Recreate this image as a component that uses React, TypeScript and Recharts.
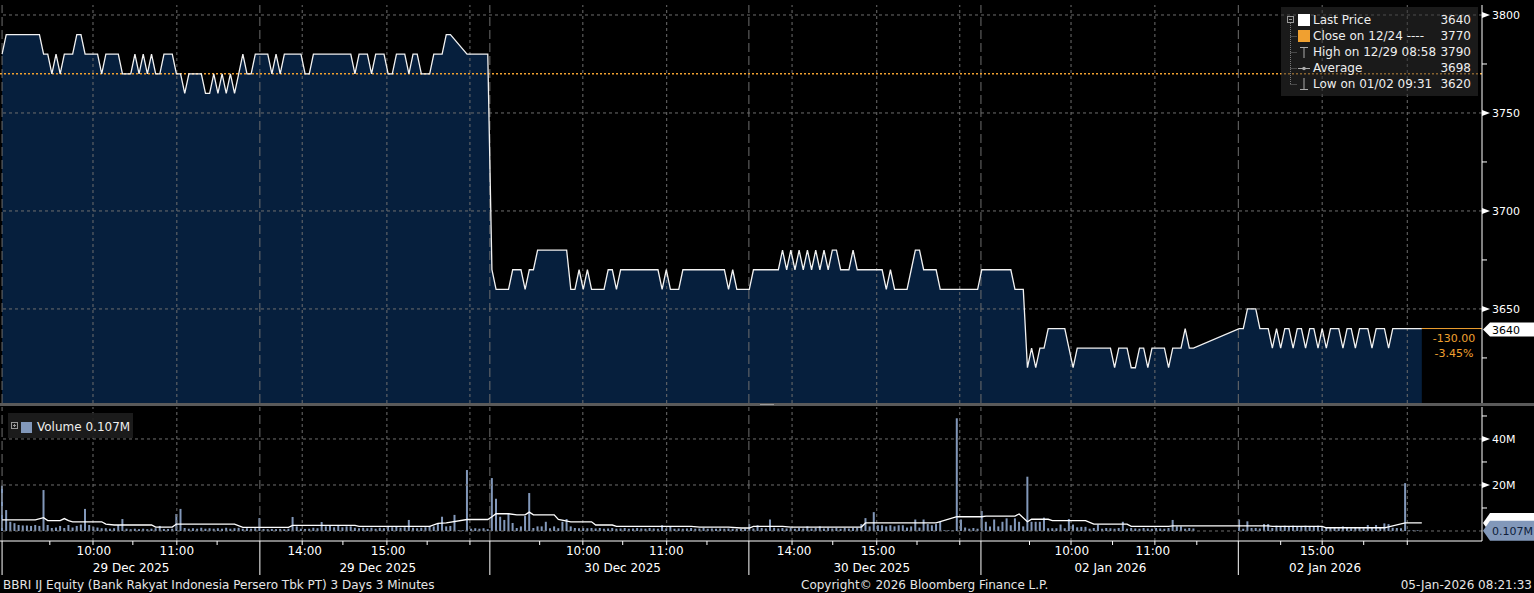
import React from "react";
import { ComposedChart, Area, Line, Bar, XAxis, YAxis, ReferenceLine } from "recharts";

// one value per 3-minute slot, 118 slots per trading day
const day1Price = [
  3780, 3790, 3790, 3790, 3790, 3790, 3790, 3790, 3790, 3790,
  3780, 3780, 3770, 3780, 3770, 3780, 3780, 3780, 3790, 3790,
  3780, 3780, 3780, 3780, 3770, 3780, 3780, 3780, 3780, 3770,
  3770, 3770, 3780, 3770, 3780, 3770, 3780, 3770, 3770, 3780,
  3780, 3780, 3770, 3770, 3760, 3770, 3770, 3770, 3770, 3760,
  3760, 3770, 3760, 3770, 3760, 3770, 3760, 3770, 3780, 3770,
  3770, 3780, 3780, 3780, 3780, 3770, 3780, 3770, 3780, 3780,
  3780, 3780, 3780, 3770, 3770, 3780, 3780, 3780, 3780, 3780,
  3780, 3780, 3780, 3780, 3780, 3770, 3780, 3780, 3780, 3770,
  3780, 3780, 3780, 3770, 3770, 3780, 3780, 3780, 3770, 3780,
  3780, 3770, 3770, 3770, 3780, 3780, 3780, 3790, 3790, null,
  null, null, 3780, 3780, 3780, 3780, 3780, 3780,
];
const day2Price = [
  3670, 3660, 3660, 3660, 3660, 3670, 3670, 3670, 3660, 3670,
  3670, 3680, 3680, 3680, 3680, 3680, 3680, 3680, 3680, 3660,
  3660, 3670, 3660, 3670, 3660, 3660, 3660, 3660, 3670, 3670,
  3660, 3670, 3670, 3670, 3670, 3670, 3670, 3670, 3670, 3670,
  3670, 3660, 3670, 3660, 3660, 3660, 3670, 3670, 3670, 3670,
  3670, 3670, 3670, 3670, 3670, 3670, 3670, 3660, 3670, 3660,
  3660, 3660, 3660, 3670, 3670, 3670, 3670, 3670, 3670, 3670,
  3680, 3670, 3680, 3670, 3680, 3670, 3680, 3670, 3680, 3670,
  3680, 3670, 3680, 3680, 3670, 3670, 3670, 3680, 3670, 3670,
  3670, 3670, 3670, 3670, 3670, 3660, 3670, 3660, 3660, 3660,
  3660, 3670, 3680, 3680, 3670, 3670, 3670, 3670, 3660, 3660,
  3660, 3660, 3660, 3660, 3660, 3660, 3660, 3660,
];
const day3Price = [
  3670, 3670, 3670, 3670, 3670, 3670, 3670, 3670, 3660, 3660,
  3660, 3620, 3630, 3620, 3630, 3630, 3640, 3640, 3640, 3640,
  3640, 3630, 3620, 3630, 3630, 3630, 3630, 3630, 3630, 3630,
  3630, 3630, 3620, 3630, 3630, 3630, 3620, 3620, 3630, 3630,
  3620, 3630, 3630, 3630, 3630, 3620, 3630, 3630, 3630, 3640,
  3630, 3630, null, null, null, null, null, null, null, null,
  null, null, 3640, 3640, 3650, 3650, 3650, 3640, 3640, 3640,
  3630, 3640, 3630, 3640, 3640, 3630, 3640, 3640, 3630, 3640,
  3640, 3630, 3640, 3630, 3640, 3640, 3640, 3630, 3640, 3640,
  3630, 3640, 3640, 3640, 3630, 3640, 3640, 3640, 3630, 3640,
  3640, 3640, 3640, 3640, 3640, 3640, 3640,
];

// volume in millions of shares
const day1Volume = [
  19.7, 9.1, 4.0, 3.4, 2.6, 2.4, 2.4, 2.2, 2.6, 2.2,
  17.8, 2.6, 1.3, 1.5, 2.2, 1.3, 2.6, 1.5, 2.2, 2.8,
  9.6, 2.6, 1.8, 1.5, 1.2, 1.2, 1.0, 1.2, 2.6, 5.2,
  1.0, 0.8, 1.0, 0.8, 1.0, 0.8, 1.0, 1.2, 2.2, 0.9,
  0.9, 1.0, 7.4, 9.6, 1.3, 1.0, 1.2, 1.0, 1.4, 1.0,
  1.2, 1.0, 1.2, 1.0, 1.4, 1.0, 1.2, 1.4, 1.0, 1.2,
  1.0, 1.2, 5.6, 0.9, 0.8, 0.9, 0.8, 0.9, 0.8, 1.0,
  6.1, 2.0, 1.0, 0.9, 1.0, 1.4, 1.2, 3.9, 2.0, 2.4,
  1.6, 2.2, 1.6, 2.0, 2.0, 1.4, 1.2, 1.4, 1.2, 1.4,
  1.0, 1.4, 1.2, 2.2, 1.6, 1.8, 1.4, 1.6, 4.8, 1.4,
  1.2, 1.4, 1.6, 2.2, 2.0, 3.2, 6.2, 2.0, 2.2, 7.0,
  0.3, 0.3, 26.5, 1.0, 1.2, 1.0, 1.2, 0.8,
];
const day2Volume = [
  23, 14, 6.2, 4.8, 7.8, 3.5, 1.3, 2.0, 6.5, 16.5,
  1.3, 2.0, 2.0, 4.0, 1.2, 2.0, 1.2, 4.0, 5.2, 2.0,
  1.3, 1.2, 1.3, 1.2, 1.3, 1.1, 1.3, 1.0, 1.1, 1.3,
  1.0, 1.1, 1.3, 1.0, 1.1, 1.3, 1.1, 1.0, 1.3, 1.1,
  1.0, 2.5, 1.1, 2.0, 1.0, 1.1, 1.0, 1.1, 1.3, 1.0,
  1.1, 1.3, 1.0, 1.1, 1.0, 1.1, 1.0, 1.1, 1.0, 0.9,
  0.9, 1.0, 3.0, 1.1, 2.5, 1.3, 1.1, 5.0, 1.4, 1.1,
  1.3, 1.1, 1.3, 1.0, 1.3, 1.1, 2.0, 1.1, 1.3, 2.0,
  1.1, 1.4, 1.1, 1.3, 1.0, 1.3, 1.1, 1.3, 1.4, 3.0,
  5.6, 2.0, 8.2, 2.5, 2.5, 2.0, 2.5, 2.0, 2.5, 2.5,
  1.5, 2.0, 5.0, 1.5, 5.0, 3.0, 2.5, 3.0, 4.0, 0.3,
  0.3, 0.3, 49, 5.0, 1.5, 1.0, 1.3, 1.0,
];
const day3Volume = [
  8.7, 4.0, 2.0, 5.0, 2.0, 4.0, 5.5, 2.5, 5.5, 4.0,
  2.0, 23.6, 4.0, 4.0, 4.0, 5.8, 1.2, 1.2, 1.2, 2.8,
  1.2, 5.2, 2.8, 1.6, 1.8, 1.8, 1.0, 1.3, 2.8, 1.0,
  1.3, 1.2, 1.0, 1.3, 4.0, 1.0, 1.3, 1.1, 1.0, 1.3,
  1.1, 1.0, 1.3, 1.1, 1.0, 1.3, 4.8, 2.0, 2.0, 1.0,
  1.3, 1.1, null, null, null, null, null, null, null, null,
  null, null, 5.0, 1.0, 4.2, 1.3, 1.3, 1.1, 3.0, 3.0,
  1.3, 2.3, 2.0, 2.3, 1.9, 2.3, 2.0, 1.9, 2.3, 2.0,
  1.9, 2.3, 2.0, 1.4, 1.3, 1.4, 1.2, 2.0, 1.4, 1.2,
  1.3, 1.4, 1.2, 2.6, 1.4, 2.6, 1.3, 3.3, 3.0, 1.4,
  1.3, 1.2, 20.8, 0.3, 0.3, 0.3, 0.1,
];

// [slot, M] points
const volumeAvg: [number, number][] = [
  [0, 4.8], [8, 4.8], [10, 5.8], [11, 4.5], [14, 4.5], [15, 5.4], [16, 4.5], [17, 4.0],
  [24, 4.0], [25, 3.0], [27, 2.6], [36, 2.6], [37, 1.7], [41, 1.7], [42, 3.0], [56, 3.0],
  [58, 1.6], [69, 1.6], [70, 2.4], [85, 2.4], [86, 2.0], [103, 2.0], [105, 3.3], [107, 3.5],
  [112, 5.0], [117, 5.0], [118, 6.2], [119, 7.5], [122, 7.5], [124, 7.0], [126, 7.0], [127, 8.2],
  [128, 7.0], [133, 7.0], [134, 5.0], [137, 4.0], [142, 4.0], [143, 2.6], [147, 2.6], [148, 2.0],
  [166, 2.0], [168, 1.7], [175, 1.7], [178, 1.3], [180, 1.3], [181, 2.0], [188, 2.0], [190, 1.7],
  [207, 1.7], [208, 3.5], [225, 3.5], [230, 6.2], [236, 6.2], [237, 6.5], [244, 6.5], [245, 7.4],
  [247, 4.0], [248, 5.1], [252, 5.1], [253, 4.5], [261, 4.5], [263, 3.0], [271, 3.0], [272, 2.0],
  [281, 2.0], [282, 2.2], [305, 2.2], [306, 2.0], [318, 2.0], [319, 1.4], [333, 1.4], [338, 3.5],
  [342, 3.5],
];

const totalSlots = 357;
const closePrice = 3770;
const lastPrice = 3640;
const lastVolume = 0.107;
const priceTicks = [3650, 3700, 3750, 3800];
const priceMinorTicks = [3625, 3675, 3725, 3775];
const volumeTicks = [20, 40];
const volumeMinorTicks = [10, 30, 50];

const timeLabels = [
  { slot: 22.1, text: "10:00" }, { slot: 42.1, text: "11:00" },
  { slot: 72.9, text: "14:00" }, { slot: 93, text: "15:00" },
  { slot: 140, text: "10:00" }, { slot: 160, text: "11:00" },
  { slot: 190.8, text: "14:00" }, { slot: 211, text: "15:00" },
  { slot: 257.7, text: "10:00" }, { slot: 277.2, text: "11:00" },
  { slot: 316.8, text: "15:00" },
];
const dateLabels = [
  { slot: 31.1, text: "29 Dec 2025" }, { slot: 90.5, text: "29 Dec 2025" },
  { slot: 149.5, text: "30 Dec 2025" }, { slot: 209.5, text: "30 Dec 2025" },
  { slot: 267, text: "02 Jan 2026" }, { slot: 318.7, text: "02 Jan 2026" },
];
const hourSlots = [
  21.9, 42.1, 72.3, 92.7, 112.7,
  139.9, 160.1, 190.3, 210.7, 230.7,
  257.5, 277.7, 318, 338.5,
];
const halfHourSlots = [
  11.5, 31.5, 51.8, 82.1, 102.4,
  129.5, 149.5, 169.8, 200.1, 220.4,
  247.5, 267.5, 287.8, 308, 328,
];
const dividerSlots = [0, 62.1, 117.5, 179.9, 235.8, 297.8];

const legendRows = [
  { icon: "last", label: "Last Price", value: "3640" },
  { icon: "close", label: "Close on 12/24 ----", value: "3770" },
  { icon: "high", label: "High on 12/29 08:58", value: "3790" },
  { icon: "avg", label: "Average", value: "3698" },
  { icon: "low", label: "Low on 01/02 09:31", value: "3620" },
];

const FONT = "'DejaVu Sans', Verdana, sans-serif";
const FILL = "#061f3d";
const GRID = "#6e6e6e";
const ORANGE = "#f0a030";
const VOL_BLUE = "#8298ba";

const priceSeries = [...day1Price, ...day2Price, ...day3Price];
const volumeSeries = [...day1Volume, ...day2Volume, ...day3Volume];
const avgBySlot = new Map(volumeAvg);
const rows = priceSeries.map((p, i) => ({
  slot: i,
  price: p,
  volume: volumeSeries[i],
  avg: avgBySlot.has(i) ? avgBySlot.get(i) : null,
}));
const lastSlot = priceSeries.length - 1;
const lastAvg = volumeAvg[volumeAvg.length - 1][1];

const xDomain = [-0.5, totalSlots - 0.5];

type TickInfo = { minor?: boolean; divider?: boolean; time?: string; date?: string };
const tickInfo = new Map<number, TickInfo>();
const addTick = (v: number, info: TickInfo) => tickInfo.set(v, { ...(tickInfo.get(v) || {}), ...info });
hourSlots.forEach((v) => addTick(v, { minor: true }));
halfHourSlots.forEach((v) => addTick(v, { minor: true }));
dividerSlots.forEach((v) => addTick(v, { divider: true }));
timeLabels.forEach((t) => addTick(t.slot, { time: t.text }));
dateLabels.forEach((t) => addTick(t.slot, { date: t.text }));
const xTicks = Array.from(tickInfo.keys()).sort((a, b) => a - b);

const XTick = (props: any) => {
  const { x, y, payload } = props;
  const info = tickInfo.get(payload.value) || {};
  return (
    <g>
      {info.minor && <line x1={x} x2={x} y1={y} y2={y + 4} stroke="#fff" />}
      {info.divider && <line x1={x} x2={x} y1={y} y2={y + 34} stroke="#fff" />}
      {info.time && (
        <text x={x} y={y + 14} textAnchor="middle" fill="#fff" fontSize={12} fontFamily={FONT}>
          {info.time}
        </text>
      )}
      {info.date && (
        <text x={x} y={y + 31} textAnchor="middle" fill="#fff" fontSize={12} fontFamily={FONT}>
          {info.date}
        </text>
      )}
    </g>
  );
};

const PriceTick = (props: any) => {
  const { x, y, payload } = props;
  const v = payload.value;
  if (v === lastPrice) {
    const cy = y + 1;
    return (
      <g>
        <polygon
          points={`${x + 1},${cy} ${x + 8},${cy - 7} ${x + 52},${cy - 7} ${x + 52},${cy + 7} ${x + 8},${cy + 7}`}
          fill="#fff"
        />
        <text x={x + 10} y={cy + 4} fill="#000" fontSize={11} fontFamily={FONT}>{v}</text>
        <text x={x - 28} y={y + 13} textAnchor="middle" fill={ORANGE} fontSize={11} fontFamily={FONT}>
          {(lastPrice - closePrice).toFixed(2)}
        </text>
        <text x={x - 28} y={y + 28} textAnchor="middle" fill={ORANGE} fontSize={11} fontFamily={FONT}>
          {(((lastPrice - closePrice) / closePrice) * 100).toFixed(2)}%
        </text>
      </g>
    );
  }
  if (priceMinorTicks.includes(v)) {
    return <line x1={x} x2={x + 5} y1={y} y2={y} stroke="#fff" />;
  }
  return (
    <g>
      <polygon points={`${x},${y - 3} ${x + 8},${y} ${x},${y + 3}`} fill="#fff" />
      <text x={x + 10} y={y + 4} fill="#fff" fontSize={11} fontFamily={FONT}>{v}</text>
    </g>
  );
};

const VolumeTick = (props: any) => {
  const { x, y, payload } = props;
  const v = payload.value;
  if (v === lastVolume) {
    return (
      <g>
        <polygon
          points={`${x + 1},${y} ${x + 8},${y - 10} ${x + 52},${y - 10} ${x + 52},${y + 10} ${x + 8},${y + 10}`}
          fill={VOL_BLUE}
        />
        <text x={x + 10} y={y + 4} fill="#0e1e3a" fontSize={11} fontFamily={FONT}>{v}M</text>
      </g>
    );
  }
  if (v === lastAvg) {
    return (
      <polygon
        points={`${x + 1},${y} ${x + 8},${y - 10} ${x + 52},${y - 10} ${x + 52},${y + 10} ${x + 8},${y + 10}`}
        fill="#fff"
      />
    );
  }
  if (volumeMinorTicks.includes(v)) {
    return <line x1={x} x2={x + 5} y1={y} y2={y} stroke="#fff" />;
  }
  return (
    <g>
      <polygon points={`${x},${y - 3} ${x + 8},${y} ${x},${y + 3}`} fill="#fff" />
      <text x={x + 10} y={y + 4} fill="#fff" fontSize={11} fontFamily={FONT}>{v}M</text>
    </g>
  );
};

const verticalGrid = (prefix: string) => [
  ...hourSlots.map((v) => (
    <ReferenceLine key={`${prefix}h${v}`} x={v} stroke={GRID} strokeDasharray="3 3" />
  )),
  ...dividerSlots.map((v) => (
    <ReferenceLine key={`${prefix}d${v}`} x={v} stroke={GRID} strokeDasharray="9 4" />
  )),
];

const LegendIcons = () => (
  <svg width={32} height={89} style={{ position: "absolute", left: 0, top: 0 }}>
    <rect x={6.5} y={9.5} width={6} height={6} stroke="#999" fill="none" />
    <line x1={8} x2={11} y1={12.5} y2={12.5} stroke="#999" />
    <line x1={9.5} x2={9.5} y1={16} y2={77} stroke="#777" strokeDasharray="1 1" />
    {[29.5, 45.5, 61.5, 77.5].map((y) => (
      <line key={y} x1={9.5} x2={16} y1={y} y2={y} stroke="#777" strokeDasharray="1 1" />
    ))}
    <rect x={17} y={7} width={12} height={12} fill="#fff" />
    <rect x={17} y={23} width={12} height={12} fill={ORANGE} />
    <line x1={19} x2={27} y1={40.5} y2={40.5} stroke="#aaa" />
    <line x1={23} x2={23} y1={40} y2={51} stroke="#aaa" />
    <line x1={17} x2={29} y1={61.5} y2={61.5} stroke="#aaa" />
    <circle cx={23} cy={61.5} r={1.8} fill="#aaa" />
    <line x1={23} x2={23} y1={71} y2={82} stroke="#aaa" />
    <line x1={19} x2={27} y1={82.5} y2={82.5} stroke="#aaa" />
  </svg>
);

const PriceLegend = () => (
  <div
    style={{
      position: "absolute", left: 1281, top: 7, width: 197, height: 89,
      background: "rgba(48,48,48,0.55)", fontFamily: FONT, fontSize: 12, color: "#eee",
    }}
  >
    <LegendIcons />
    {legendRows.map((r, i) => (
      <div
        key={r.icon}
        style={{ position: "absolute", left: 32, right: 7, top: 5 + i * 16, height: 16, lineHeight: "16px", whiteSpace: "nowrap" }}
      >
        <span>{r.label}</span>
        <span style={{ position: "absolute", right: 0 }}>{r.value}</span>
      </div>
    ))}
  </div>
);

const VolumeLegend = () => (
  <div
    style={{
      position: "absolute", left: 8, top: 413, width: 125, height: 25,
      background: "rgba(30,30,30,0.9)", fontFamily: FONT, fontSize: 12, color: "#eee",
    }}
  >
    <svg width={28} height={25} style={{ position: "absolute", left: 0, top: 0 }}>
      <rect x={3.5} y={9.5} width={6} height={6} stroke="#999" fill="none" />
      <line x1={5} x2={8} y1={12.5} y2={12.5} stroke="#999" />
      <line x1={6.5} x2={6.5} y1={11} y2={14} stroke="#999" />
      <rect x={13} y={9} width={11} height={11} fill={VOL_BLUE} />
    </svg>
    <div style={{ position: "absolute", left: 29, top: 7, lineHeight: "14px", whiteSpace: "nowrap" }}>
      Volume {lastVolume}M
    </div>
  </div>
);

const App = () => (
  <div
    style={{
      position: "absolute", left: 0, top: 0, width: 1534, height: 593,
      background: "#000", overflow: "hidden", fontFamily: FONT,
    }}
  >
    <div style={{ position: "absolute", left: 0, top: 0 }}>
      <ComposedChart width={1534} height={403} data={rows} margin={{ top: 5, right: 0, bottom: 0, left: 0 }}>
        <XAxis type="number" dataKey="slot" domain={xDomain} hide allowDataOverflow />
        <YAxis
          orientation="right"
          width={52}
          domain={[3602, 3805.1]}
          ticks={[...priceMinorTicks, ...priceTicks, lastPrice]}
          interval={0}
          tick={PriceTick}
          tickLine={false}
          tickSize={0}
          tickMargin={0}
          axisLine={{ stroke: "#fff" }}
          allowDataOverflow
        />
        <Area
          dataKey="price"
          type="linear"
          fill={FILL}
          fillOpacity={1}
          stroke="none"
          baseValue="dataMin"
          connectNulls
          isAnimationActive={false}
        />
        {priceTicks.map((v) => (
          <ReferenceLine key={`p${v}`} y={v} stroke={GRID} strokeDasharray="3 3" />
        ))}
        {verticalGrid("p")}
        <ReferenceLine y={closePrice} stroke={ORANGE} strokeDasharray="2 2" strokeWidth={1.5} />
        <ReferenceLine
          segment={[{ x: lastSlot, y: lastPrice }, { x: totalSlots - 0.5, y: lastPrice }]}
          stroke={ORANGE}
        />
        <Line
          dataKey="price"
          type="linear"
          stroke="#f2f2f2"
          strokeWidth={1.3}
          dot={false}
          connectNulls
          isAnimationActive={false}
        />
      </ComposedChart>
    </div>

    <div style={{ position: "absolute", left: 0, top: 403, width: 1534, height: 3, background: "#5a5a5a" }} />
    <div style={{ position: "absolute", left: 760, top: 404, width: 14, height: 1, background: "#9a9a9a" }} />

    <div style={{ position: "absolute", left: 0, top: 406 }}>
      <ComposedChart width={1534} height={180} data={rows} margin={{ top: 1, right: 0, bottom: 0, left: 0 }}>
        <XAxis
          type="number"
          dataKey="slot"
          domain={xDomain}
          ticks={xTicks}
          interval={0}
          tick={XTick}
          tickLine={false}
          tickSize={0}
          tickMargin={0}
          height={45}
          axisLine={{ stroke: "#fff" }}
          allowDataOverflow
        />
        <YAxis
          orientation="right"
          width={52}
          domain={[-4.35, 53.9]}
          ticks={[...volumeMinorTicks, ...volumeTicks, lastAvg, lastVolume]}
          interval={0}
          tick={VolumeTick}
          tickLine={false}
          tickSize={0}
          tickMargin={0}
          axisLine={{ stroke: "#fff" }}
          allowDataOverflow
        />
        {[0, ...volumeTicks].map((v) => (
          <ReferenceLine key={`v${v}`} y={v} stroke={GRID} strokeDasharray="3 3" />
        ))}
        {verticalGrid("v")}
        <Bar dataKey="volume" fill={VOL_BLUE} barSize={2} isAnimationActive={false} />
        <Line
          dataKey="avg"
          type="linear"
          stroke="#fff"
          strokeWidth={1.3}
          dot={false}
          connectNulls
          isAnimationActive={false}
        />
      </ComposedChart>
    </div>

    <PriceLegend />
    <VolumeLegend />

    <div style={{ position: "absolute", left: 3, top: 578, fontSize: 12, lineHeight: "14px", color: "#e6e6e6", whiteSpace: "nowrap" }}>
      BBRI IJ Equity (Bank Rakyat Indonesia Persero Tbk PT) 3 Days 3 Minutes
    </div>
    <div style={{ position: "absolute", left: 801, top: 578, fontSize: 12, lineHeight: "14px", color: "#e6e6e6", whiteSpace: "nowrap" }}>
      Copyright© 2026 Bloomberg Finance L.P.
    </div>
    <div style={{ position: "absolute", left: 0, width: 1532, top: 578, fontSize: 12, lineHeight: "14px", color: "#e6e6e6", textAlign: "right", whiteSpace: "nowrap" }}>
      05-Jan-2026 08:21:33
    </div>
  </div>
);

export default App;
